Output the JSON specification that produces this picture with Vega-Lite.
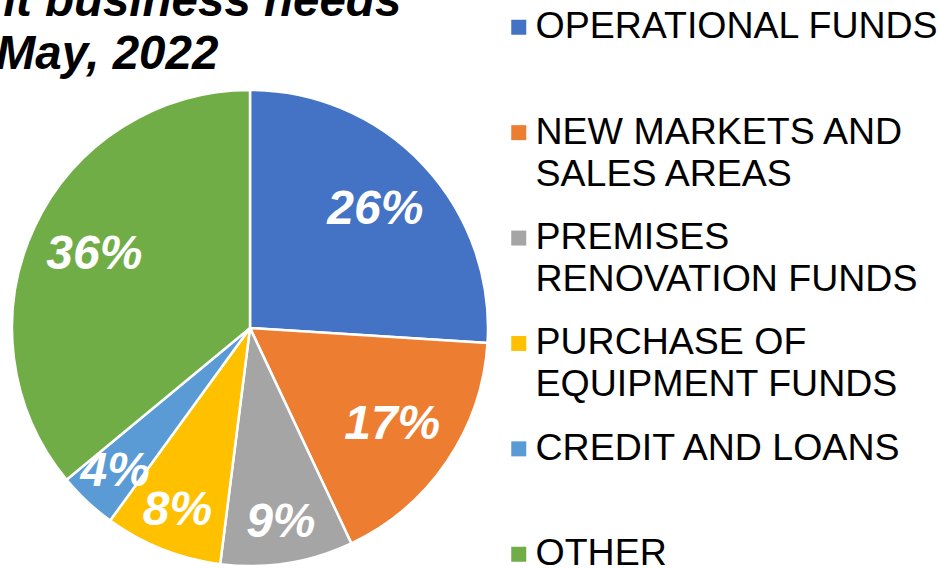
{
  "$schema": "https://vega.github.io/schema/vega-lite/v6.json",
  "autosize": "none",
  "width": 500,
  "height": 480,
  "padding": {"left": 0, "top": 88, "right": 438, "bottom": 0},
  "background": "white",
  "title": {
    "text": ["Important business needs", "May, 2022"],
    "anchor": "start",
    "align": "center",
    "frame": "group",
    "dx": 107,
    "dy": 118,
    "offset": 0,
    "baseline": "bottom",
    "font": "Liberation Sans",
    "fontSize": 47.5,
    "fontWeight": "bold",
    "fontStyle": "italic",
    "lineHeight": 53,
    "color": "black"
  },
  "data": {
    "values": [
      {"category": "OPERATIONAL FUNDS", "value": 0.26, "k": 1},
      {"category": "NEW MARKETS AND SALES AREAS", "value": 0.17, "k": 2},
      {"category": "PREMISES RENOVATION FUNDS", "value": 0.09, "k": 3},
      {"category": "PURCHASE OF EQUIPMENT FUNDS", "value": 0.08, "k": 4},
      {"category": "CREDIT AND LOANS", "value": 0.04, "k": 5},
      {"category": "OTHER", "value": 0.36, "k": 6}
    ]
  },
  "encoding": {
    "theta": {"field": "value", "type": "quantitative", "stack": true},
    "order": {"field": "k", "type": "quantitative"},
    "color": {
      "field": "category",
      "type": "nominal",
      "scale": {
        "domain": ["OPERATIONAL FUNDS", "NEW MARKETS AND SALES AREAS", "PREMISES RENOVATION FUNDS", "PURCHASE OF EQUIPMENT FUNDS", "CREDIT AND LOANS", "OTHER"],
        "range": ["#4472C4", "#ED7D31", "#A5A5A5", "#FFC000", "#5B9BD5", "#70AD47"]
      },
      "legend": {
        "title": null,
        "orient": "none",
        "legendX": 500,
        "legendY": -79.5,
        "symbolType": "square",
        "symbolSize": 225,
        "symbolStrokeWidth": 0,
        "labelFont": "Liberation Sans",
        "labelFontSize": 37.5,
        "labelColor": "black",
        "labelLimit": 0,
        "labelOffset": -2,
        "rowPadding": 24.4,
        "padding": 0,
        "labelExpr": "datum.label == 'NEW MARKETS AND SALES AREAS' ? ['NEW MARKETS AND', 'SALES AREAS'] : datum.label == 'PREMISES RENOVATION FUNDS' ? ['PREMISES', 'RENOVATION FUNDS'] : datum.label == 'PURCHASE OF EQUIPMENT FUNDS' ? ['PURCHASE OF', 'EQUIPMENT FUNDS'] : [datum.label, '']"
      }
    }
  },
  "layer": [
    {
      "mark": {"type": "arc", "radius": 238, "stroke": "white", "strokeWidth": 2.5}
    },
    {
      "mark": {
        "type": "text",
        "radius": {"expr": "datum.value < 0.1 ? 197 : 172"},
        "font": "Liberation Sans",
        "fontSize": 48,
        "fontWeight": "bold",
        "fontStyle": "italic",
        "fill": "white",
        "align": "center",
        "baseline": "middle"
      },
      "encoding": {
        "text": {"field": "value", "type": "quantitative", "format": ".0%"},
        "color": {"value": "white"}
      }
    }
  ],
  "config": {
    "view": {"stroke": null},
    "style": {"guide-label": {"lineHeight": 42}}
  }
}
